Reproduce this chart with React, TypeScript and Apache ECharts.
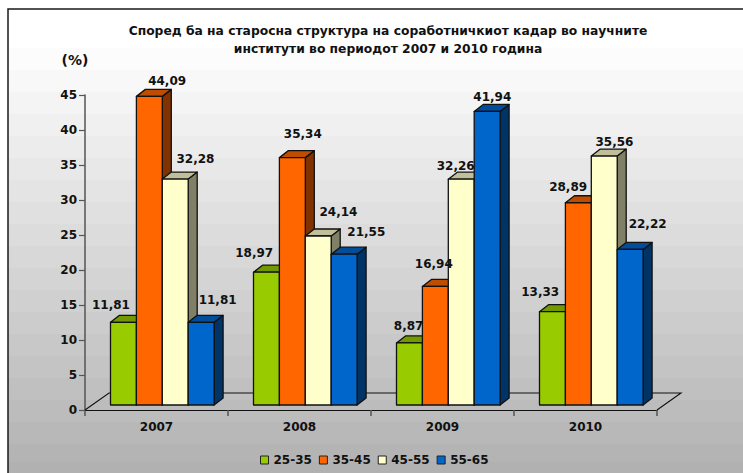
import React, { useEffect, useRef } from "react";
import * as echarts from "echarts";

const titleText = "Според ба на старосна структура на соработничкиот кадар во научните\nинститути во периодот 2007 и 2010 година";
const unitLabel = "(%)";
const categories = ["2007", "2008", "2009", "2010"];
const ageGroups = ["25-35", "35-45", "45-55", "55-65"];
const values2535 = [11.81, 18.97, 8.87, 13.33];
const values3545 = [44.09, 35.34, 16.94, 28.89];
const values4555 = [32.28, 24.14, 32.26, 35.56];
const values5565 = [11.81, 21.55, 41.94, 22.22];
const allValues = [values2535, values3545, values4555, values5565];

// [front, top, side] face colours per age group
const faceColors = [
  ["#99CC00", "#739900", "#4D6600"],
  ["#FF6600", "#BF4D00", "#803300"],
  ["#FFFFCC", "#BFBF99", "#808066"],
  ["#0066CC", "#004D99", "#003366"],
];
// hand-placed label offsets from the top centre of each bar's front face
const labelDx = [
  [-12.5, -12.2, -0.8, -12.2],
  [17.8, 10.5, -1.5, -10.2],
  [20.2, 20.2, -5.5, 10.2],
  [16.5, 22.2, 5.2, 17.5],
];
const labelDy = [
  [-17.3, -19.5, -16.9, -19.4],
  [-15.4, -23.3, -22.1, -15.5],
  [-19.7, -24.3, -12.9, -13.8],
  [-22.3, -22.5, -14.1, -25.2],
];

const FONT = '"DejaVu Sans", Verdana, sans-serif';
const INK = "#111111";
const BAR_W = 25.9;
const BAR_LEFT = 25.5; // from the category band's left edge to the first bar
const LIFT = 5; // front of the bars sits this far behind the axis plane
const DEPTH_X = 9;
const DEPTH_Y = 7;
const FLOOR_X = 24;
const FLOOR_Y = 17;
// vertical shading of the chart area, as horizontal bands (top y, grey level)
const SHADE_STOPS = [
  [9, "#ffffff"], [48, "#fcfcfc"], [70, "#f8f8f8"], [92, "#f4f4f4"], [114, "#f0f0f0"],
  [136, "#ececec"], [158, "#e8e8e8"], [180, "#e4e4e4"], [202, "#e0e0e0"], [224, "#dcdcdc"],
  [246, "#d8d8d8"], [268, "#d4d4d4"], [290, "#d0d0d0"], [312, "#cccccc"], [334, "#c8c8c8"],
  [356, "#c4c4c4"], [378, "#c0c0c0"], [400, "#bcbcbc"], [422, "#b8b8b8"], [444, "#b4b4b4"], [462, "#b1b1b1"],
] as const;

function barRender(k: number) {
  return (params: any, api: any) => {
    const i = api.value(0);
    const v = api.value(1);
    const base = api.coord([i, 0]);
    const top = api.coord([i, v]);
    const band = api.size([1, 0])[0];
    const x0 = base[0] - band / 2 + BAR_LEFT + k * BAR_W;
    const x1 = x0 + BAR_W;
    const yb = base[1] - LIFT;
    const yt = top[1] - LIFT;
    const [front, topC, side] = faceColors[k];
    const stroke = { stroke: "#111", lineWidth: 1.3, lineJoin: "round" };
    const label = v.toFixed(2).replace(".", ",");
    return {
      type: "group",
      children: [
        {
          type: "polygon",
          shape: { points: [[x1, yt], [x1 + DEPTH_X, yt - DEPTH_Y], [x1 + DEPTH_X, yb - DEPTH_Y], [x1, yb]] },
          style: { fill: side, ...stroke },
        },
        {
          type: "polygon",
          shape: { points: [[x0, yt], [x0 + DEPTH_X, yt - DEPTH_Y], [x1 + DEPTH_X, yt - DEPTH_Y], [x1, yt]] },
          style: { fill: topC, ...stroke },
        },
        {
          type: "rect",
          shape: { x: x0, y: yt, width: BAR_W, height: yb - yt },
          style: { fill: front, ...stroke },
        },
        {
          type: "text",
          z2: 100,
          style: {
            text: label,
            x: (x0 + x1) / 2 + labelDx[k][i],
            y: yt + labelDy[k][i],
            fill: INK,
            font: `bold 12px ${FONT}`,
            align: "center",
            verticalAlign: "middle",
          },
        },
      ],
    };
  };
}

function floorRender(params: any, api: any) {
  const r = params.coordSys;
  const yb = r.y + r.height;
  return {
    type: "polyline",
    shape: {
      points: [
        [r.x, yb],
        [r.x + FLOOR_X, yb - FLOOR_Y],
        [r.x + r.width + FLOOR_X, yb - FLOOR_Y],
        [r.x + r.width, yb],
      ],
    },
    style: { fill: "none", stroke: "#111", lineWidth: 1.1 },
  };
}

export default function App() {
  const ref = useRef<HTMLDivElement>(null);
  useEffect(() => {
    const chart = echarts.init(ref.current!, undefined, { renderer: "svg" });
    chart.setOption({
      animation: false,
      textStyle: { fontFamily: FONT },
      graphic: [
        ...SHADE_STOPS.map(([y, fill], idx) => ({
          type: "rect",
          z: -10,
          silent: true,
          shape: { x: 8, y, width: 735, height: (idx + 1 < SHADE_STOPS.length ? SHADE_STOPS[idx + 1][0] : 473) - y + 1 },
          style: { fill },
        })),
        {
          type: "polyline",
          z: -5,
          silent: true,
          shape: { points: [[8, 473], [8, 9], [743, 9]] },
          style: { fill: "none", stroke: "#1a1a1a", lineWidth: 1.5 },
        },
        {
          type: "text",
          z: 10,
          style: {
            text: titleText,
            x: 388,
            y: 40,
            align: "center",
            verticalAlign: "middle",
            fill: INK,
            font: `bold 12.3px ${FONT}`,
            lineHeight: 18,
          },
        },
        {
          type: "text",
          z: 10,
          style: {
            text: unitLabel,
            x: 75,
            y: 60,
            align: "center",
            verticalAlign: "middle",
            fill: INK,
            font: `bold 14px ${FONT}`,
          },
        },
      ],
      grid: { left: 85, right: 86, top: 95, bottom: 63 },
      legend: {
        data: ageGroups,
        left: 260,
        top: 454,
        itemWidth: 8,
        itemHeight: 8,
        itemGap: 7,
        padding: 0,
        icon: "rect",
        itemStyle: { borderColor: "#222", borderWidth: 1 },
        textStyle: { color: INK, fontFamily: FONT, fontWeight: "bold", fontSize: 12 },
      },
      xAxis: {
        type: "category",
        data: categories,
        axisLine: { lineStyle: { color: "#111", width: 1.2 } },
        axisTick: { show: true, length: 6, lineStyle: { color: "#555", width: 1.5 } },
        axisLabel: { color: INK, fontFamily: FONT, fontWeight: "bold", fontSize: 12, margin: 11 },
        splitLine: { show: false },
      },
      yAxis: {
        type: "value",
        min: 0,
        max: 45,
        interval: 5,
        axisLine: { show: true, lineStyle: { color: "#555", width: 1.5 } },
        axisTick: { show: true, length: 6, lineStyle: { color: "#555", width: 1.2 } },
        axisLabel: { color: INK, fontFamily: FONT, fontWeight: "bold", fontSize: 12, margin: 8 },
        splitLine: { show: false },
      },
      series: [
        {
          type: "custom",
          name: "floor",
          silent: true,
          renderItem: floorRender,
          data: [[0, 0]],
          encode: { x: 0, y: 1 },
          z: 1,
        },
        ...ageGroups.map((name, k) => ({
          type: "custom",
          name,
          renderItem: barRender(k),
          data: allValues[k].map((v, i) => [i, v]),
          encode: { x: 0, y: 1 },
          itemStyle: { color: faceColors[k][0] },
          clip: false,
          z: 3,
        })),
      ],
    });
    return () => chart.dispose();
  }, []);
  return <div ref={ref} style={{ position: "absolute", left: 0, top: 0, width: 743, height: 473 }} />;
}
